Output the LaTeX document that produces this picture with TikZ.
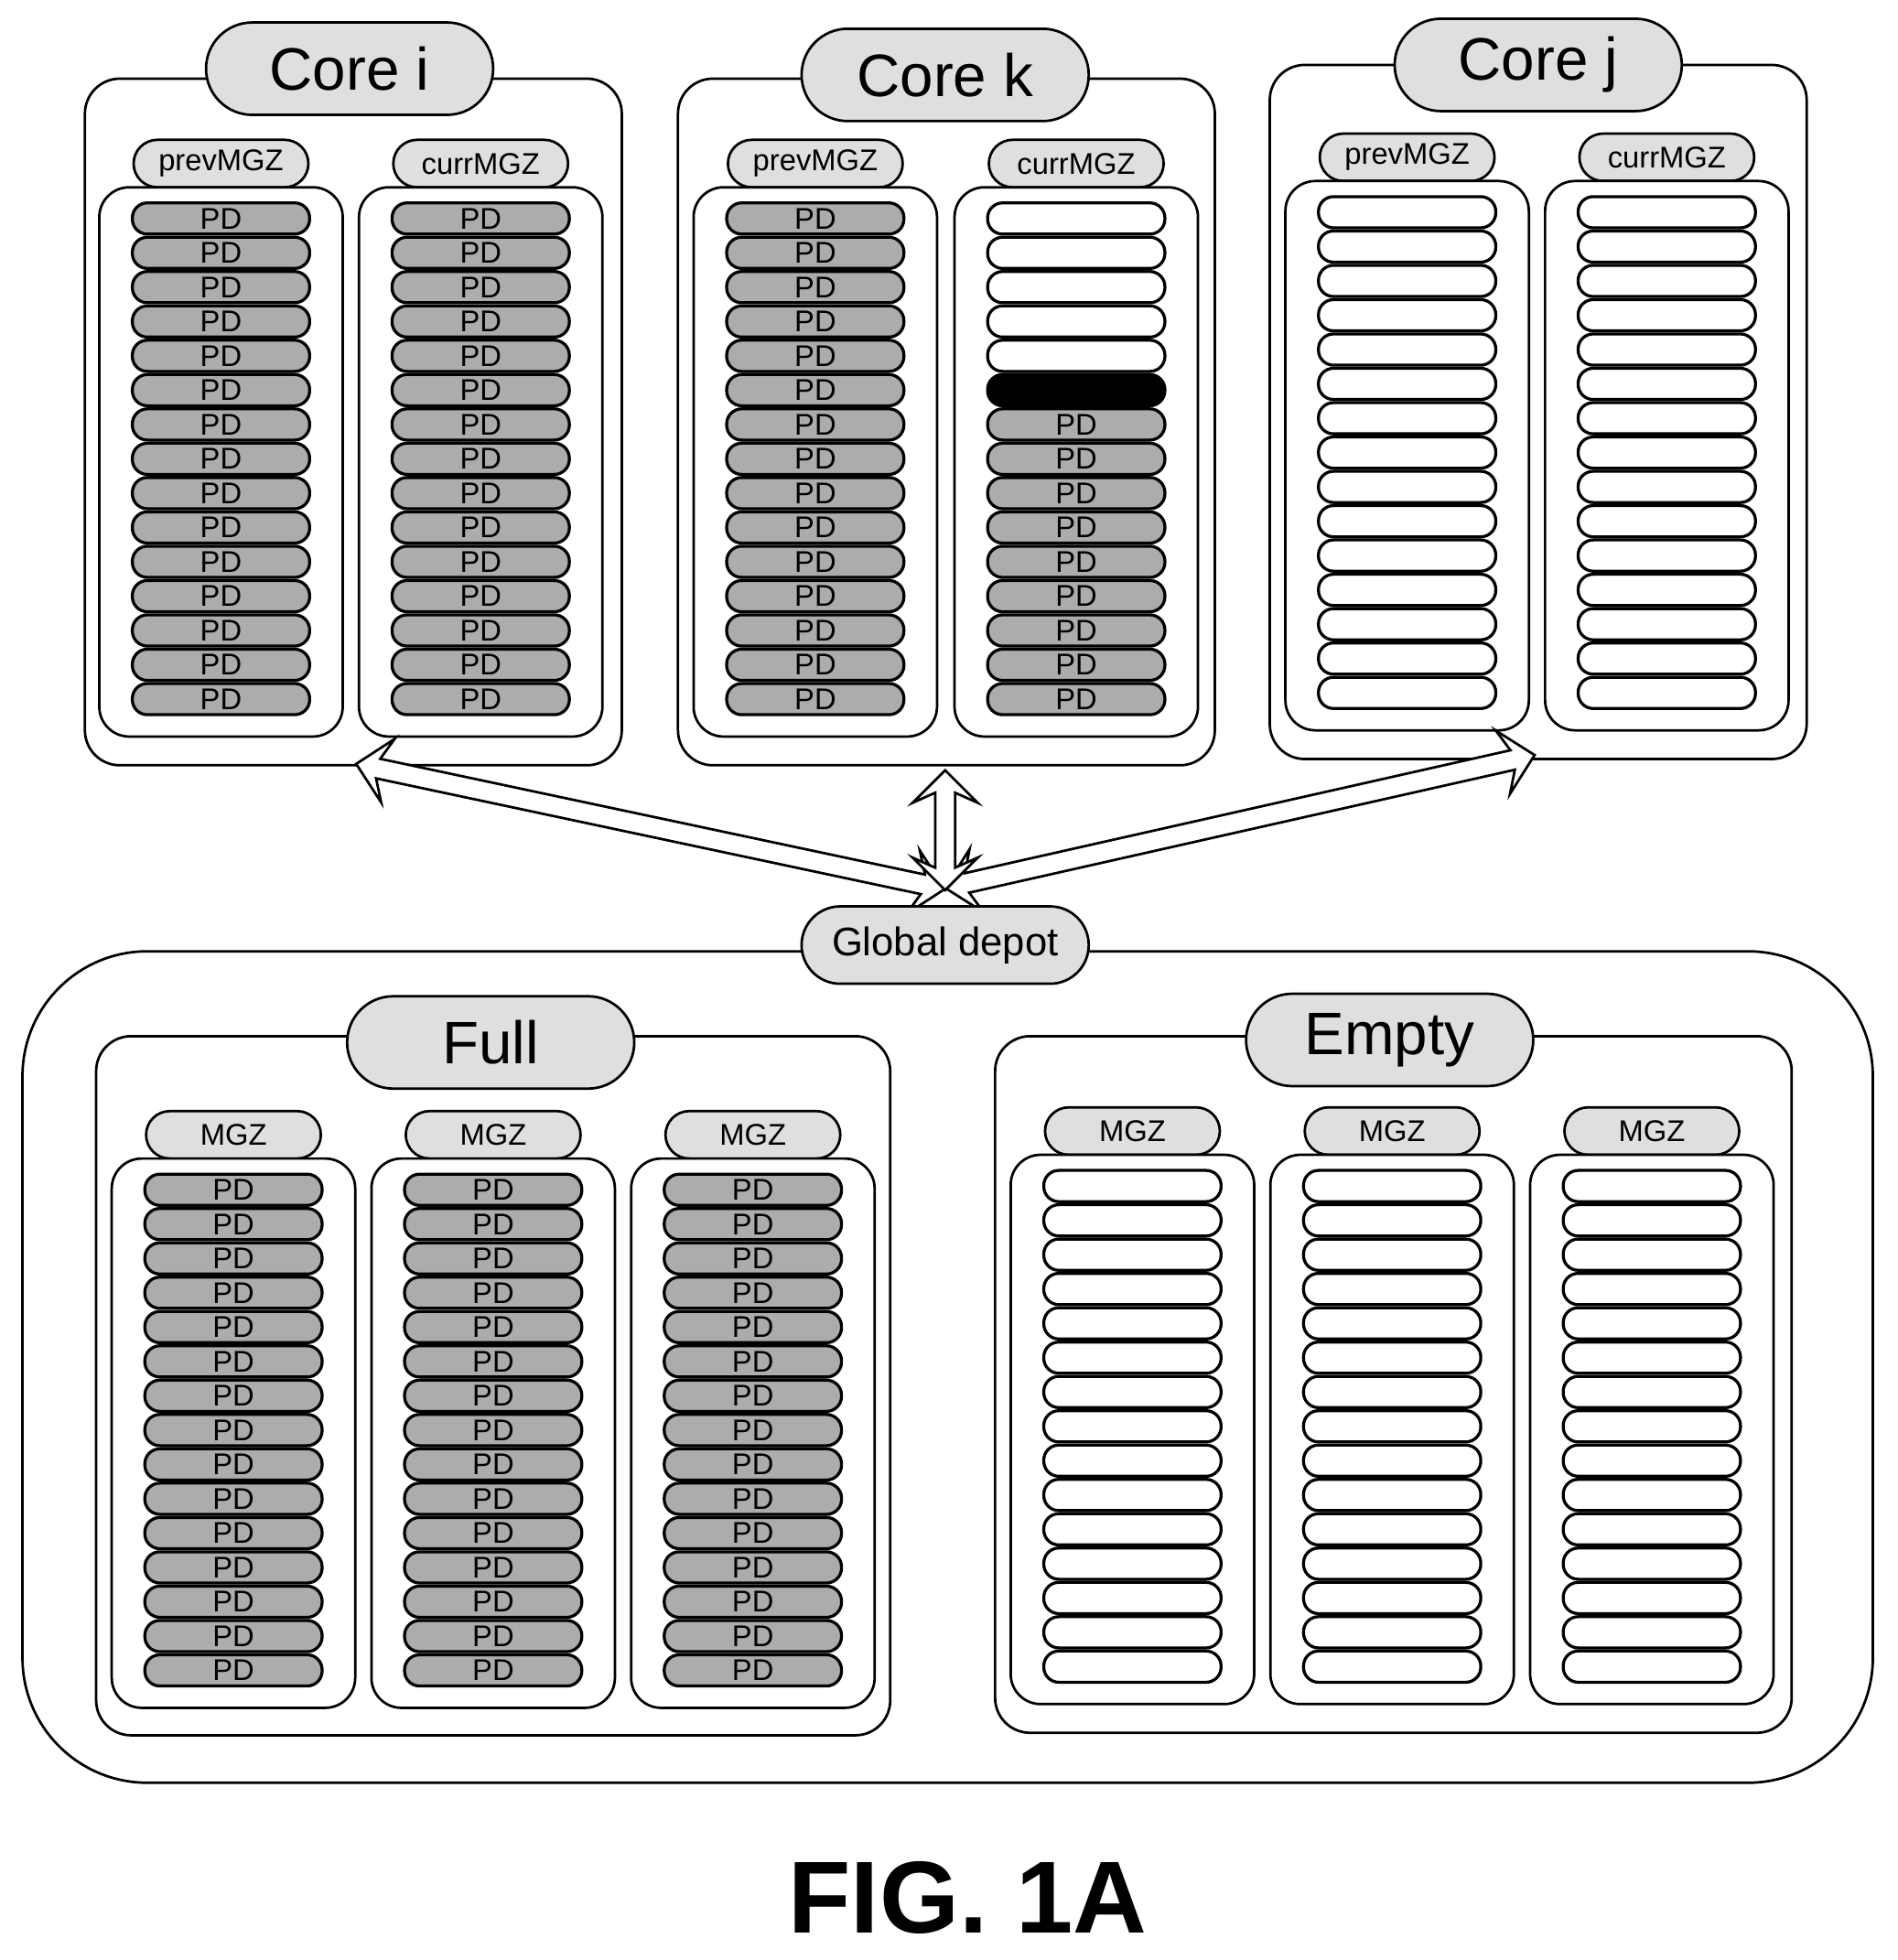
\documentclass[tikz,border=0pt]{standalone}
\usepackage{fontspec}
\setmainfont{Liberation Sans}
\usetikzlibrary{shapes.misc,shapes.arrows}

% one MGZ column: name, centre x, top y, label, empty slots, black slots
\newcommand\mgzcol[6]{%
  \node[tag] (#1t) at (#2,#3-19) {#4};
  \node[col] (#1) at (#2,#3+220) {};
  \foreach \r in {1,...,15}{
    \ifnum\r>\numexpr#5+#6\relax
      \node[slot,pd] (#1-\r) at (#2,#3+25+27.5*\r-27.5) {PD};
    \else\ifnum\r>#5
      \node[slot,fill=black] (#1-\r) at (#2,#3+25+27.5*\r-27.5) {};
    \else
      \node[slot] (#1-\r) at (#2,#3+25+27.5*\r-27.5) {};
    \fi\fi
  }}

\tikzset{
  slot/.style={draw,line width=1.2pt,fill=white,rounded corners=6pt,minimum width=71pt,minimum height=12.5pt,inner sep=0pt},
  pd/.style={fill=gray!65,font=\fontsize{12}{12}\selectfont},
  col/.style={draw,line width=1pt,rounded corners=12pt,minimum width=97.5pt,minimum height=220pt,fill=white},
  tag/.style={draw,line width=1pt,rounded rectangle,fill=gray!25,minimum width=70pt,minimum height=19pt,inner sep=0pt,font=\fontsize{12}{12}\selectfont},
  title/.style={tag,minimum width=115pt,minimum height=37pt,font=\fontsize{24}{24}\selectfont},
  group/.style={draw,line width=1pt,rounded corners=14pt,fill=white},
  link/.style={draw,line width=1pt,fill=white,double arrow,inner sep=3.5pt,double arrow head extend=9pt,double arrow head indent=4pt}
}

\begin{document}
\begin{tikzpicture}[x=0.5pt,y=-0.5pt]
\useasboundingbox (0,0) rectangle (1520,1570);

% global depot
\node[group,rounded corners=50pt,minimum width=741pt,minimum height=333pt] (depot) at (759,1095) {};

% cores
\node[group,minimum width=215pt,minimum height=275pt] (corei) at (283,338) {};
\node[group,minimum width=215pt,minimum height=275pt] (corek) at (758,338) {};
\node[group,minimum width=215pt,minimum height=278pt] (corej) at (1232,330) {};
\node[title] (coreit) at (280,55) {Core i};
\node[title] (corekt) at (757,60) {Core k};
\node[title] (corejt) at (1232,52) {Core j};
\mgzcol{ip}{177}{150}{prevMGZ}{0}{0}
\mgzcol{ic}{385}{150}{currMGZ}{0}{0}
\mgzcol{kp}{653}{150}{prevMGZ}{0}{0}
\mgzcol{kc}{862}{150}{currMGZ}{5}{1}
\mgzcol{jp}{1127}{145}{prevMGZ}{15}{0}
\mgzcol{jc}{1335}{145}{currMGZ}{15}{0}

% full and empty pools
\node[group,minimum width=318pt,minimum height=280pt] (full) at (395,1110) {};
\node[group,minimum width=319pt,minimum height=279pt] (empty) at (1116,1109) {};
\node[title] (fullt) at (393,835) {Full};
\node[title] (emptyt) at (1113,833) {Empty};
\foreach \n/\x in {f1/187,f2/395,f3/603}{\mgzcol{\n}{\x}{928}{MGZ}{0}{0}}
\foreach \n/\x in {e1/907,e2/1115,e3/1323}{\mgzcol{\n}{\x}{925}{MGZ}{15}{0}}

% links to the cores
\node[link,minimum height=241pt,rotate=168] (toi) at (521,662) {};
\node[link,minimum height=242pt,rotate=12.7] (toj) at (993,658) {};
\node[link,minimum height=48pt,rotate=90] (tok) at (757,665) {};
\node[tag,minimum width=115pt,minimum height=31pt,font=\fontsize{16}{16}\selectfont] (depott) at (757,757) {Global depot};

\node[font=\bfseries\fontsize{41}{41}\selectfont] (fig) at (775,1520) {FIG. 1A};
\end{tikzpicture}
\end{document}
